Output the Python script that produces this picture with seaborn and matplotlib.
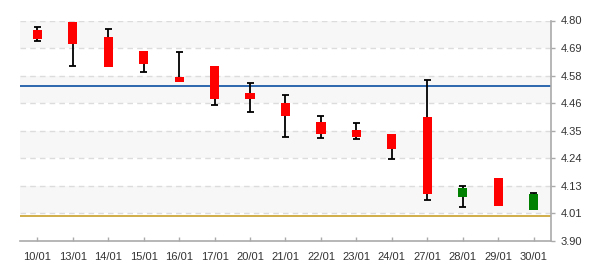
import matplotlib
matplotlib.use("Agg")
import matplotlib.pyplot as plt
import seaborn as sns
import pandas as pd
import numpy as np

# ---- data ----
dates = ["10/01", "13/01", "14/01", "15/01", "16/01", "17/01", "20/01", "21/01",
         "22/01", "23/01", "24/01", "27/01", "28/01", "29/01", "30/01"]
open_ = [4.761, 4.794, 4.733, 4.676, 4.569, 4.614, 4.504, 4.463,
         4.386, 4.353, 4.337, 4.406, 4.081, 4.157, 4.028]
high = [4.772, 4.794, 4.764, 4.676, 4.670, 4.614, 4.544, 4.497,
        4.409, 4.380, 4.337, 4.558, 4.123, 4.157, 4.096]
low = [4.715, 4.613, 4.611, 4.589, 4.550, 4.454, 4.425, 4.324,
       4.319, 4.316, 4.233, 4.066, 4.038, 4.043, 4.028]
close = [4.724, 4.705, 4.611, 4.624, 4.550, 4.481, 4.481, 4.411,
         4.338, 4.326, 4.276, 4.092, 4.116, 4.043, 4.093]
ref_upper = [4.531]
ref_lower = [4.002]
y_ticks = [3.90, 4.0125, 4.125, 4.2375, 4.35, 4.4625, 4.575, 4.6875, 4.80]
y_ticklabels = ["3.90", "4.01", "4.13", "4.24", "4.35", "4.46", "4.58", "4.69", "4.80"]

df = pd.DataFrame({"date": dates, "open": open_, "high": high, "low": low, "close": close})
df["bottom"] = df[["open", "close"]].min(axis=1)
df["top"] = df[["open", "close"]].max(axis=1)
df["body"] = df["top"] - df["bottom"]
df["pos"] = np.arange(len(df))

sns.set_theme(style="white")
plt.rcParams["font.family"] = ["Liberation Sans", "DejaVu Sans"]

fig = plt.figure(figsize=(6, 2.7), dpi=100)
ax = fig.add_axes([20 / 600, 1 - 241 / 270, 531 / 600, 220.5 / 270])

# alternating background bands
for i in range(len(y_ticks) - 1):
    if i % 2 == 1:
        ax.axhspan(y_ticks[i], y_ticks[i + 1], color="#f7f7f7", zorder=0, lw=0)

# dashed grid
for t in y_ticks[1:]:
    ax.axhline(t, color="#dcdcdc", lw=1, ls=(0, (4, 3)), zorder=0.5)

# reference lines
ax.axhline(ref_upper[0], color="#0b4ea2", lw=1.2, zorder=1)
ax.axhline(ref_lower[0], color="#c8a02a", lw=1.2, zorder=1)

# wicks
cap = 0.1
for _, r in df.iterrows():
    if r["high"] > r["top"] + 1e-9:
        ax.vlines(r["pos"], r["top"], r["high"], color="black", lw=1.3, zorder=2)
        ax.hlines(r["high"], r["pos"] - cap, r["pos"] + cap, color="black", lw=1.3, zorder=2)
    if r["low"] < r["bottom"] - 1e-9:
        ax.vlines(r["pos"], r["low"], r["bottom"], color="black", lw=1.3, zorder=2)
        ax.hlines(r["low"], r["pos"] - cap, r["pos"] + cap, color="black", lw=1.3, zorder=2)

down = df[df["close"] < df["open"]]
up = df[df["close"] >= df["open"]]
sns.barplot(data=down, x="date", y="body", order=dates, bottom=down["bottom"].values,
            color="#ff0000", saturation=1, width=0.26, linewidth=0, errorbar=None,
            ax=ax, zorder=3)
sns.barplot(data=up, x="date", y="body", order=dates, bottom=up["bottom"].values,
            color="#008000", saturation=1, width=0.26, linewidth=0, errorbar=None,
            ax=ax, zorder=3)

ax.set_xlim(-0.49, len(dates) - 0.51)
ax.set_ylim(y_ticks[0], y_ticks[-1])
ax.set_yticks(y_ticks)
ax.set_yticklabels(y_ticklabels)
ax.set_xticks(range(len(dates)))
ax.set_xticklabels(dates)
ax.set_xlabel("")
ax.set_ylabel("")

ax.yaxis.tick_right()
for s in ["left", "top"]:
    ax.spines[s].set_visible(False)
for s in ["right", "bottom"]:
    ax.spines[s].set_visible(True)
    ax.spines[s].set_color("#aaaaaa")
    ax.spines[s].set_linewidth(1.2)
ax.tick_params(axis="y", which="both", right=True, left=False, length=3, width=1,
               color="#aaaaaa", labelsize=8, labelcolor="#333333", pad=4, direction="out")
ax.tick_params(axis="x", which="both", bottom=True, length=3, width=1, color="#aaaaaa",
               labelsize=8, labelcolor="#333333", pad=8, direction="in")

fig.savefig("out.png", dpi=100)
